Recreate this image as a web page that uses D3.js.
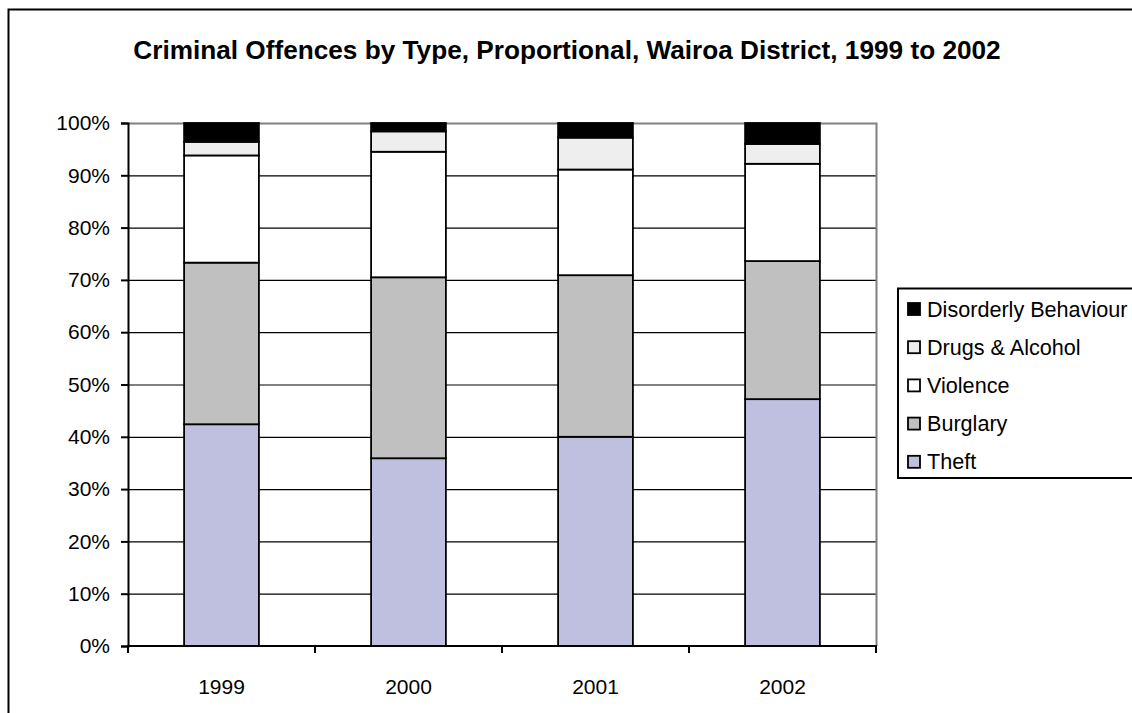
<!DOCTYPE html>
<html><head><meta charset="utf-8">
<script src="https://cdn.jsdelivr.net/npm/d3@7"></script>
<style>body{margin:0;background:#fff}svg{display:block;font-family:Arial,"Liberation Sans",sans-serif}</style>
</head><body><svg id="c" width="1132" height="713"></svg>
<script>
const years = ["1999","2000","2001","2002"];
const theft = [42.4, 35.9, 40.0, 47.2];
const burglary = [30.9, 34.6, 30.9, 26.4];
const violence = [20.5, 24.0, 20.2, 18.6];
const drugs = [2.6, 3.9, 6.1, 3.8];
const disorderly = [3.6, 1.6, 2.8, 4.0];
const seriesNames = ["Theft","Burglary","Violence","Drugs & Alcohol","Disorderly Behaviour"];
const seriesColors = ["#BFBFDF","#C0C0C0","#FFFFFF","#EEEEEE","#000000"];
const yTicks = [0,10,20,30,40,50,60,70,80,90,100];
const title = "Criminal Offences by Type, Proportional, Wairoa District, 1999 to 2002";

const svg = d3.select("#c");
svg.append("rect").attr("x",8.5).attr("y",9.5).attr("width",1130).attr("height",712)
  .attr("fill","#fff").attr("stroke","#000").attr("stroke-width",2);

svg.append("text").attr("x",567).attr("y",59).attr("text-anchor","middle")
  .attr("font-weight","bold").attr("font-size",26.2).text(title);

const L=128, R=876, T=123, B=646;
const x = d3.scaleBand().domain(years).range([L,R]).paddingInner(0.6).paddingOuter(0.3);
const y = d3.scaleLinear().domain([0,100]).range([B,T]);

// grid
svg.append("g").selectAll("line").data(yTicks.filter(d=>d>0&&d<100)).join("line")
  .attr("x1",L).attr("x2",R).attr("y1",d=>y(d)+0.5).attr("y2",d=>y(d)+0.5)
  .attr("stroke","#000").attr("stroke-width",1.2);
// plot border (top/right grey)
svg.append("path").attr("d",`M${L},${y(100)+0.5}H${R+0.5}V${B}`).attr("fill","none")
  .attr("stroke","#808080").attr("stroke-width",2);

const table = years.map((yr,i)=>({year:yr, Theft:theft[i], Burglary:burglary[i], Violence:violence[i],
  "Drugs & Alcohol":drugs[i], "Disorderly Behaviour":disorderly[i]}));
const stacked = d3.stack().keys(seriesNames)(table);
svg.append("g").selectAll("g").data(stacked).join("g")
  .attr("fill",(d,i)=>seriesColors[i])
  .selectAll("rect").data(d=>d).join("rect")
  .attr("x",d=>x(d.data.year)).attr("width",x.bandwidth())
  .attr("y",d=>y(d[1])).attr("height",d=>y(d[0])-y(d[1]))
  .attr("stroke","#000").attr("stroke-width",1.8);

// axes
const ya = svg.append("g").attr("transform",`translate(${L},0)`)
  .call(d3.axisLeft(y).tickValues(yTicks).tickFormat(d=>d+"%").tickSize(7).tickPadding(11));
ya.select(".domain").attr("stroke-width",2);
ya.selectAll(".tick line").attr("stroke-width",2);
ya.selectAll("text").attr("font-size",21).attr("font-family","Arial, 'Liberation Sans', sans-serif").attr("fill","#000");

const xa = svg.append("g").attr("transform",`translate(0,${B})`)
  .call(d3.axisBottom(x).tickSize(0).tickPadding(33));
xa.select(".domain").remove();
xa.selectAll("text").attr("font-size",21).attr("font-family","Arial, 'Liberation Sans', sans-serif").attr("fill","#000");
svg.append("line").attr("x1",L-1).attr("x2",R+1).attr("y1",B).attr("y2",B).attr("stroke","#000").attr("stroke-width",2);
const step = x.step();
svg.append("g").selectAll("line").data(d3.range(years.length+1)).join("line")
  .attr("x1",d=>L+d*step).attr("x2",d=>L+d*step).attr("y1",B).attr("y2",B+7)
  .attr("stroke","#000").attr("stroke-width",2);

// legend
const lg = svg.append("g");
lg.append("rect").attr("x",898).attr("y",288.5).attr("width",240).attr("height",189.5)
  .attr("fill","#fff").attr("stroke","#000").attr("stroke-width",2);
const legOrder = seriesNames.map((n,i)=>i).reverse();
const items = lg.selectAll("g.it").data(legOrder).join("g").attr("class","it")
  .attr("transform",(d,j)=>`translate(908,${309+j*38.2})`);
items.append("rect").attr("x",0).attr("y",-6).attr("width",12).attr("height",12)
  .attr("fill",d=>seriesColors[d]).attr("stroke","#000").attr("stroke-width",1.8);
items.append("text").attr("x",19).attr("y",7.5).attr("font-size",21.6).text(d=>seriesNames[d]);
</script></body></html>
